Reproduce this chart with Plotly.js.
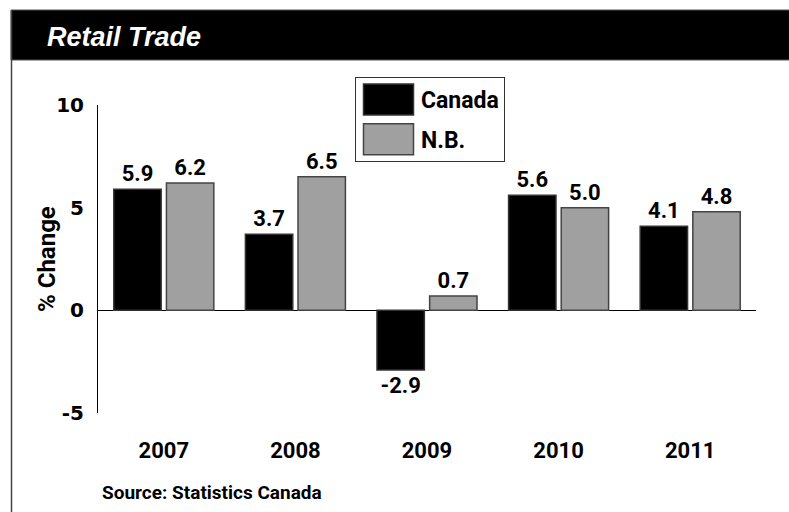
<!DOCTYPE html>
<html>
<head>
<meta charset="utf-8">
<script src="https://cdn.plot.ly/plotly-3.0.1.min.js"></script>
<style>html,body{margin:0;padding:0;background:#fff;}#chart{width:789px;height:512px;}</style>
</head>
<body>
<div id="chart"></div>
<script>
var years = ['2007', '2008', '2009', '2010', '2011'];
var canada = [5.9, 3.7, -2.9, 5.6, 4.1];
var nb = [6.2, 6.5, 0.7, 5.0, 4.8];
var seriesNames = ['Canada', 'N.B.'];
var yTickVals = [-5, 0, 5, 10];
var yTickText = ['-5', '0', '5', '10'];
var chartTitle = 'Retail Trade';
var yTitle = '% Change';
var sourceText = 'Source: Statistics Canada';

var COND = 'Roboto, "Liberation Sans", sans-serif';
var lbl = function (arr) { return arr.map(function (v) { return v.toFixed(1); }); };

var traces = [
  {
    type: 'bar', name: seriesNames[0], x: years, y: canada, legendgroup: 'a',
    marker: {color: '#000000', line: {color: '#333333', width: 1.5}},
    text: lbl(canada), textposition: 'outside', cliponaxis: false, constraintext: 'none',
    textfont: {family: COND, size: 22, color: '#000', weight: 'bold'},
    hoverinfo: 'skip'
  },
  {
    type: 'bar', name: seriesNames[1], x: years, y: nb, legendgroup: 'b',
    marker: {color: '#a0a0a0', line: {color: '#444444', width: 1.5}},
    text: lbl(nb), textposition: 'outside', cliponaxis: false, constraintext: 'none',
    textfont: {family: COND, size: 22, color: '#000', weight: 'bold'},
    hoverinfo: 'skip'
  }
];

// pixel -> paper helpers (plot area: x 98..756, y 105..413)
var L = 98, R = 33, T = 105, B = 99, W = 789, H = 512;
var pw = W - L - R, ph = H - T - B;
function px(x) { return (x - L) / pw; }
function py(y) { return (H - B - y) / ph; }

var layout = {
  width: W, height: H,
  margin: {l: L, r: R, t: T, b: B, pad: 0},
  paper_bgcolor: '#ffffff', plot_bgcolor: '#ffffff',
  title: {
    text: '<b><i>' + chartTitle + '</i></b>',
    font: {family: '"Liberation Sans", Arial, sans-serif', size: 27, color: '#ffffff'},
    xref: 'container', yref: 'container', x: 47 / W, xanchor: 'left', y: 1 - 37 / H, yanchor: 'middle'
  },
  barmode: 'group', bargap: 0.2, bargroupgap: 0.1,
  showlegend: true,
  legend: {
    x: px(355), y: py(77), xanchor: 'left', yanchor: 'top',
    bgcolor: '#ffffff', bordercolor: '#333333', borderwidth: 1,
    font: {family: COND, size: 23, color: '#000', weight: 'bold'},
    itemwidth: 55, tracegroupgap: 7, traceorder: 'grouped'
  },
  xaxis: {
    type: 'category', showgrid: false, showline: false, zeroline: false, ticks: '',
    tickfont: {family: COND, size: 22, color: '#000', weight: 'bold'},
    ticklabelstandoff: 22
  },
  yaxis: {
    range: [-5, 10], tickvals: yTickVals, ticktext: yTickText,
    showgrid: false, showline: true, linecolor: '#000', linewidth: 1,
    zeroline: true, zerolinecolor: '#000', zerolinewidth: 1, ticks: '',
    tickfont: {family: '"DejaVu Sans", sans-serif', size: 20, color: '#000', weight: 'bold'},
    ticklabelstandoff: 9
  },
  shapes: [
    {type: 'rect', xref: 'paper', yref: 'paper', x0: px(11), x1: px(800), y0: py(60), y1: py(10),
     fillcolor: '#000000', line: {color: '#555555', width: 1}, layer: 'below'},
    {type: 'line', xref: 'paper', yref: 'paper', x0: px(11.5), x1: px(11.5), y0: py(10), y1: py(520),
     line: {color: '#444444', width: 1.5}, layer: 'below'}
  ],
  annotations: [
    {text: yTitle, xref: 'paper', yref: 'paper', x: px(47), y: 0.5, xanchor: 'center', yanchor: 'middle',
     textangle: -90, showarrow: false, font: {family: COND, size: 24, color: '#000', weight: 'bold'}},
    {text: sourceText, xref: 'paper', yref: 'paper', x: px(100), y: py(492), xanchor: 'left', yanchor: 'middle',
     showarrow: false, font: {family: COND, size: 19, color: '#000', weight: 'bold'}}
  ]
};

function bigSwatches() {
  var paths = document.querySelectorAll('#chart .legend .legendpoints path');
  paths.forEach(function (p) { p.setAttribute('d', 'M25,15.5H-25V-15.5H25Z'); });
}

Plotly.newPlot('chart', traces, layout, {displayModeBar: false, staticPlot: true}).then(function (gd) {
  bigSwatches();
  setTimeout(bigSwatches, 0);
  setTimeout(bigSwatches, 100);
});
</script>
</body>
</html>
